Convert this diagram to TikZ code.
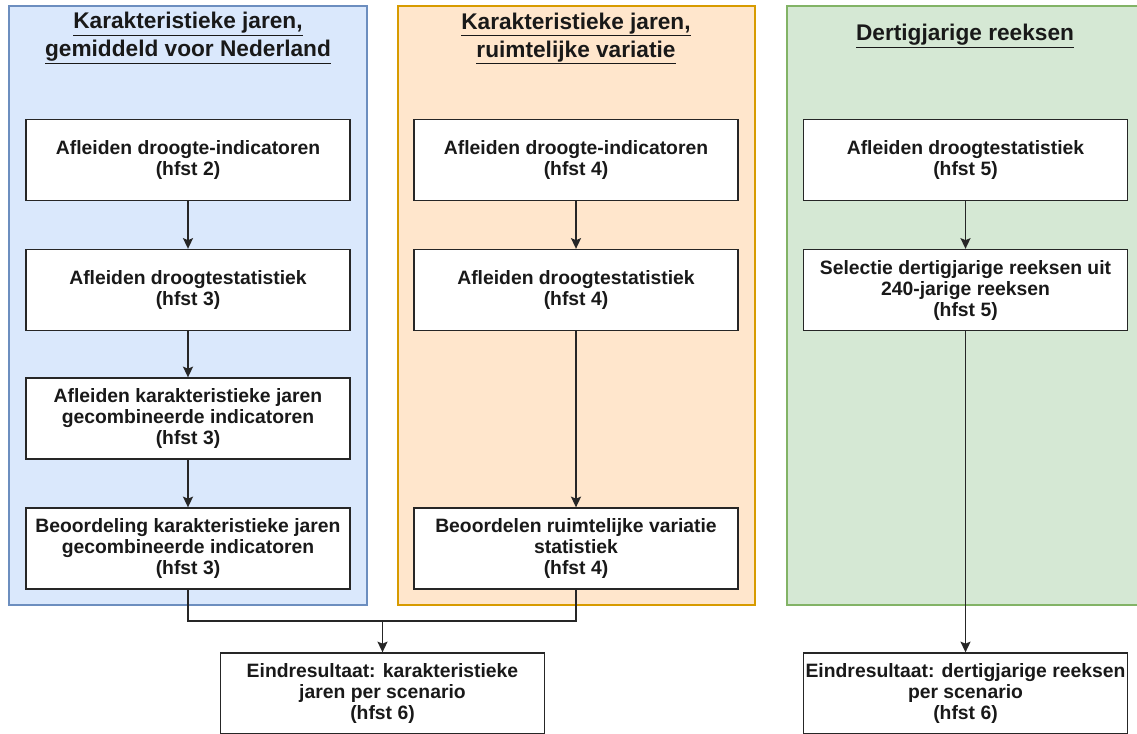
\documentclass[tikz,border=0pt]{standalone}
\usepackage{fontspec}
\setmainfont{Liberation Sans}
\usetikzlibrary{arrows.meta}

\definecolor{blauwvlak}{HTML}{DAE8FC}
\definecolor{blauwrand}{HTML}{6C8EBF}
\definecolor{oranjevlak}{HTML}{FFE6CC}
\definecolor{oranjerand}{HTML}{D79B00}
\definecolor{groenvlak}{HTML}{D5E8D4}
\definecolor{groenrand}{HTML}{82B366}

\tikzset{
  stap/.style={draw=black!85, fill=white, line width=1pt, minimum width=243pt,
    minimum height=60.75pt, inner xsep=1pt, inner ysep=2pt, align=center, text=black!90,
    font=\bfseries\fontsize{14.5}{15.75}\selectfont,
    execute at begin node={\rule{0pt}{17pt}}},
  kop/.style={align=center, text=black!90, font=\bfseries\fontsize{17}{21}\selectfont},
  pijl/.style={-{Stealth[length=8pt,width=7.5pt,inset=1.5pt]}, line width=1.3pt, draw=black!85},
  lijn/.style={line width=1.2pt, draw=black!85}
}

\begin{document}
\begin{tikzpicture}[x=0.75pt,y=-0.75pt]
\useasboundingbox (0,0) rectangle (1137,734);
\clip (0,0) rectangle (1137,734);

% drie vlakken
\draw[fill=blauwvlak,draw=blauwrand,line width=1pt] (9,6) rectangle (367,605);
\draw[fill=oranjevlak,draw=oranjerand,line width=1pt] (398,6) rectangle (755,605);
\draw[fill=groenvlak,draw=groenrand,line width=1pt] (787,6) rectangle (1145,605);

\node[kop] (kopNL) at (188,38.5) {\underline{Karakteristieke jaren,}\\\underline{gemiddeld voor Nederland}};
\node[kop] (kopRV) at (576,38.5) {\underline{Karakteristieke jaren,}\\\underline{ruimtelijke variatie}};
\node[kop] (kopDR) at (965,36) {\underline{Dertigjarige reeksen}};

% kolom 1
\node[stap] (nl1) at (188,160) {Afleiden droogte-indicatoren\\(hfst 2)};
\node[stap] (nl2) at (188,290) {Afleiden droogtestatistiek\\(hfst 3)};
\node[stap] (nl3) at (188,418.5) {Afleiden karakteristieke jaren\\gecombineerde indicatoren\\(hfst 3)};
\node[stap] (nl4) at (188,548.5) {Beoordeling karakteristieke jaren\\gecombineerde indicatoren\\(hfst 3)};

% kolom 2
\node[stap] (rv1) at (576,160) {Afleiden droogte-indicatoren\\(hfst 4)};
\node[stap] (rv2) at (576,290) {Afleiden droogtestatistiek\\(hfst 4)};
\node[stap] (rv4) at (576,548.5) {Beoordelen ruimtelijke variatie\\statistiek\\(hfst 4)};

% kolom 3
\node[stap] (dr1) at (965.5,160) {Afleiden droogtestatistiek\\(hfst 5)};
\node[stap] (dr2) at (965.5,290) {Selectie dertigjarige reeksen uit\\240-jarige reeksen\\(hfst 5)};

% eindresultaten
\node[stap] (eind1) at (382.5,693.5) {Eindresultaat: karakteristieke\\jaren per scenario\\(hfst 6)};
\node[stap] (eind2) at (965.5,693.5) {Eindresultaat: dertigjarige reeksen\\per scenario\\(hfst 6)};

\draw[pijl] (nl1) -- (nl2);
\draw[pijl] (nl2) -- (nl3);
\draw[pijl] (nl3) -- (nl4);
\draw[pijl] (rv1) -- (rv2);
\draw[pijl] (rv2) -- (rv4);
\draw[pijl] (dr1) -- (dr2);
\draw[pijl] (dr2) -- (eind2);

\coordinate (samen) at (382.5,621);
\draw[lijn] (nl4.south) |- (samen);
\draw[lijn] (rv4.south) |- (samen);
\draw[pijl] (samen) -- (eind1.north);
\end{tikzpicture}
\end{document}
